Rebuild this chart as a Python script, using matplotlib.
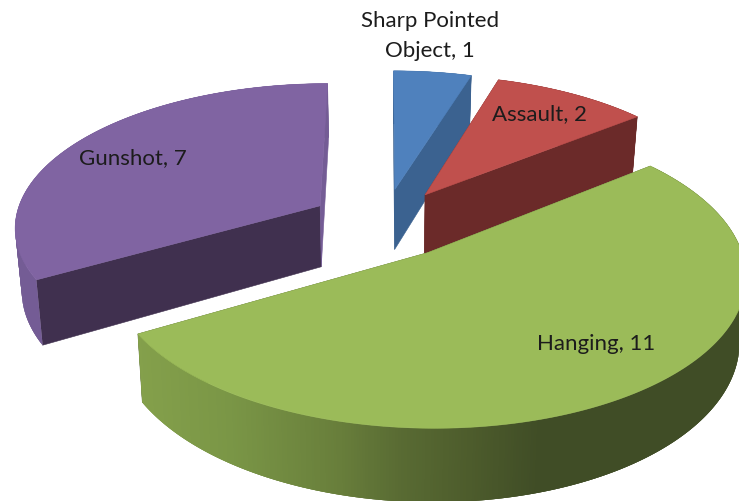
import numpy as np
import matplotlib
matplotlib.use("Agg")
import matplotlib.pyplot as plt
from matplotlib.patches import Polygon
from matplotlib.colors import to_rgb

categories = ["Sharp Pointed\nObject", "Assault", "Hanging", "Gunshot"]
values = [1, 2, 11, 7]
top_colors = ["#4f81bd", "#c0504d", "#9bbb59", "#8064a2"]
end_face_colors = ["#3b6290", "#6b2a29", "#4f5f2e", "#745c95"]
start_face_colors = ["#3b6290", "#6b2a29", "#4f5f2e", "#40304f"]
wall_stops = {
    0: [(0, "#3b6290"), (739, "#3b6290")],
    1: [(0, "#6b2a29"), (739, "#6b2a29")],
    2: [(137, "#84a04b"), (230, "#7a9646"), (340, "#687e3b"), (400, "#596b33"), (470, "#4d5c2c"), (540, "#404d26"), (739, "#404d26")],
    3: [(0, "#745c95"), (739, "#745c95")],
}
label_pos = [(430, 36), (540, 114), (596, 344), (133, 158)]
draw_order = [0, 3, 1, 2]

CX, CY = 384, 224
R, A = 306, 143
P = 0.135
E = 0.245
D = 62
SHRINK = 0.982


def project(X, Y, bottom=False):
    s = 1.0 / (1.0 + P * Y)
    x = R * X * s
    y = CY - A * Y * s
    if bottom:
        x = x * SHRINK
        y = y + D * s
    return CX + x, y


fig = plt.figure(figsize=(7.39, 5.02), dpi=100)
ax = fig.add_axes([0, 0, 1, 1])
ax.set_xlim(0, 739)
ax.set_ylim(502, 0)
ax.axis("off")

total = sum(values)
edges = np.concatenate([[0], np.cumsum(values)]) / total * 2 * np.pi


def quad(pts, color, z, lw=0.4):
    ax.add_patch(Polygon(pts, closed=True, facecolor=color, edgecolor=color if lw else "none", lw=lw, zorder=z))


for z, i in enumerate(draw_order):
    a0, a1 = edges[i], edges[i + 1]
    mid = (a0 + a1) / 2
    ox, oy = E * np.sin(mid), E * np.cos(mid)
    th = np.linspace(a0, a1, 400)
    X = ox + np.sin(th)
    Y = oy + np.cos(th)
    tx, ty = project(X, Y)
    bx, by = project(X, Y, bottom=True)
    ax_, ay_ = project(np.array([ox]), np.array([oy]))
    cx_, cy_ = project(np.array([ox]), np.array([oy]), bottom=True)
    base = z * 10
    # radial faces
    quad([(ax_[0], ay_[0]), (tx[0], ty[0]), (bx[0], by[0]), (cx_[0], cy_[0])], start_face_colors[i], base + 1)
    quad([(ax_[0], ay_[0]), (tx[-1], ty[-1]), (bx[-1], by[-1]), (cx_[0], cy_[0])], end_face_colors[i], base + 2)
    # outer wall: each strip overlaps the next so no seams appear
    stops = wall_stops[i]
    sx = [p[0] for p in stops]
    sc = np.array([to_rgb(p[1]) for p in stops])
    n = len(th)
    for k in range(n - 1):
        e = min(k + 3, n - 1)
        xm = (tx[k] + tx[k + 1]) / 2
        col = [np.interp(xm, sx, sc[:, c]) for c in range(3)]
        strip = list(zip(tx[k:e + 1], ty[k:e + 1])) + list(zip(bx[k:e + 1][::-1], by[k:e + 1][::-1]))
        quad(strip, col, base + 3, lw=0)
    # top
    pts = np.column_stack([np.r_[ax_, tx], np.r_[ay_, ty]])
    ax.add_patch(Polygon(pts, closed=True, facecolor=top_colors[i], edgecolor=top_colors[i], lw=0.4, zorder=base + 4))

for i, name in enumerate(categories):
    ax.text(label_pos[i][0], label_pos[i][1], f"{name}, {values[i]}", ha="center", va="center",
            family="Lato", fontsize=16, color="#1c1c1c", zorder=100, linespacing=1.68)

fig.savefig("out.png", dpi=100)
